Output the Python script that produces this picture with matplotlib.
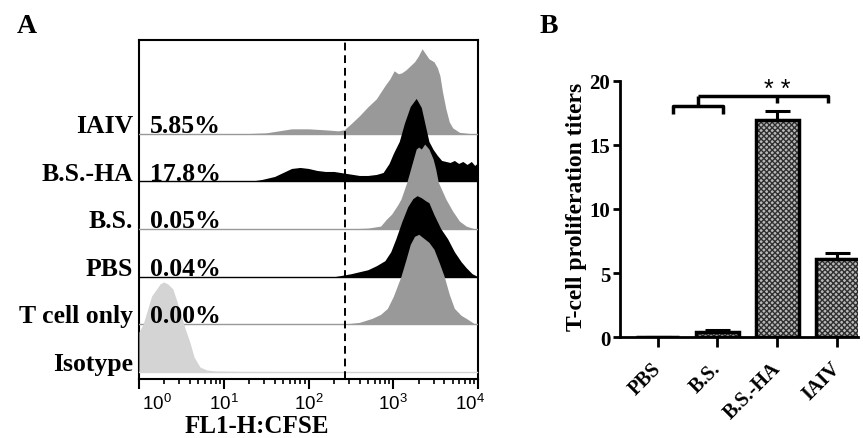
import numpy as np
import matplotlib
matplotlib.use("Agg")
import matplotlib.pyplot as plt
import matplotlib.transforms as mtransforms

plt.rcParams['font.family'] = ['Liberation Serif', 'DejaVu Serif']
plt.rcParams['mathtext.fontset'] = 'custom'
plt.rcParams['mathtext.rm'] = 'Liberation Sans'
plt.rcParams['mathtext.it'] = 'Liberation Sans'

# ---- panel A: CFSE histograms (log10 FL1-H, relative counts) ----
rows = ["Isotype", "T cell only", "PBS", "B.S.", "B.S.-HA", "IAIV"]
percents = ["", "0.00%", "0.04%", "0.05%", "17.8%", "5.85%"]
row_colors = ["#d4d4d4", "#999999", "#000000", "#999999", "#000000", "#999999"]

iso_x = [0, 0.05, 0.1, 0.15, 0.2, 0.25, 0.29, 0.34, 0.4, 0.45, 0.5, 0.55, 0.6,
         0.65, 0.72, 0.8, 0.9, 1.2, 2, 4]
iso_h = [40, 48, 62, 76, 82, 88, 90, 88, 83, 70, 56, 42, 30, 15, 5, 2, 1, 0.6,
         0.4, 0.3]

tcell_x = [2.4, 2.6, 2.75, 2.85, 2.93, 3.0, 3.09, 3.15, 3.2, 3.25, 3.3, 3.36,
           3.42, 3.48, 3.54, 3.6, 3.66, 3.72, 3.8, 3.86, 3.95]
tcell_h = [0, 2, 6, 10, 16, 28, 48, 65, 80, 88, 90, 86, 82, 75, 62, 48, 30, 16,
           9, 6, 1]

pbs_x = [2.3, 2.5, 2.7, 2.8, 2.9, 2.97, 3.03, 3.1, 3.17, 3.23, 3.28, 3.33, 3.38,
         3.42, 3.48, 3.56, 3.64, 3.72, 3.8, 3.86, 3.93, 4.0]
pbs_h = [0, 3, 7, 11, 16, 25, 38, 55, 70, 78, 81, 79, 76, 74, 62, 48, 38, 25, 15,
         9, 3, 0]

bs_x = [2.4, 2.7, 2.85, 2.92, 2.98, 3.05, 3.09, 3.16, 3.22, 3.27, 3.3, 3.33,
        3.37, 3.42, 3.47, 3.5, 3.53, 3.62, 3.7, 3.78, 3.86, 3.95]
bs_h = [0, 1, 3, 10, 15, 24, 30, 47, 65, 80, 82, 80, 85, 80, 70, 60, 47, 30, 18,
        8, 3, 0.5]

bsha_x = [1.3, 1.45, 1.6, 1.7, 1.8, 1.9, 2.0, 2.1, 2.2, 2.3, 2.45, 2.6, 2.7, 2.8,
          2.88, 2.95, 3.0, 3.07, 3.13, 3.2, 3.27, 3.33, 3.38, 3.42, 3.47, 3.52,
          3.57, 3.62, 3.67, 3.72, 3.77, 3.82, 3.87, 3.92, 3.96, 4.0]
bsha_h = [0, 2, 5, 9, 13, 14, 13, 11, 10, 10, 8, 6, 6, 7, 9, 18, 28, 40, 58, 75,
          83, 74, 55, 40, 32, 26, 21, 20, 19, 21, 18, 20, 17, 20, 16, 19]

iaiv_x = [1.2, 1.5, 1.65, 1.8, 2.0, 2.2, 2.35, 2.42, 2.5, 2.6, 2.7, 2.8, 2.9,
          2.96, 3.01, 3.06, 3.1, 3.15, 3.2, 3.25, 3.29, 3.34, 3.38, 3.42, 3.48,
          3.52, 3.55, 3.58, 3.62, 3.66, 3.7, 3.78, 3.9, 4.0]
iaiv_h = [0, 1, 3, 5, 5, 4, 3, 4, 10, 18, 27, 35, 48, 55, 63, 60, 61, 64, 68, 72,
          77, 85, 80, 75, 72, 66, 58, 42, 25, 12, 6, 1.5, 0.3, 0]

hist_x = [iso_x, tcell_x, pbs_x, bs_x, bsha_x, iaiv_x]
hist_h = [iso_h, tcell_h, pbs_h, bs_h, bsha_h, iaiv_h]
gate = 270

# ---- panel B: proliferation titers ----
groups = ["PBS", "B.S.", "B.S.-HA", "IAIV"]
titers = [0, 0.45, 16.9, 6.1]
titer_err = [0, 0.12, 0.7, 0.45]

fig = plt.figure(figsize=(8.63, 4.39), dpi=100)

# panel A
axA = fig.add_axes([0.161, 0.1344, 0.393, 0.7722])
scale = 47.6  # counts per row spacing
n = len(rows)
for i in range(n - 1, -1, -1):
    z = 2 + (n - i) * 2
    axA.axhline(i, color=row_colors[i], lw=1.0, zorder=z)
    xs = 10 ** np.array(hist_x[i])
    ys = i + np.array(hist_h[i]) / scale
    axA.fill_between(xs, i, ys, color=row_colors[i], lw=0, zorder=z + 1)

axA.axvline(gate, color='black', ls=(0, (4, 2.5)), lw=1.4, zorder=30)
axA.set_xscale('log')
axA.set_xlim(1, 10 ** 4.0)
axA.set_ylim(-0.147, 6.97)
axA.set_yticks([])
for s in axA.spines.values():
    s.set_linewidth(1.5)
axA.set_xticks([1, 10, 100, 1000, 10000])
axA.set_xticklabels([r'$10^{0}$', r'$10^{1}$', r'$10^{2}$', r'$10^{3}$', r'$10^{4}$'])
axA.tick_params(axis='x', which='major', length=7, width=1.5, labelsize=13.5, pad=3)
axA.tick_params(axis='x', which='minor', length=3.5, width=1.2)
tl = axA.get_xticklabels()
tl[0].set_transform(tl[0].get_transform() + mtransforms.ScaledTranslation(18 / 100, 0, fig.dpi_scale_trans))
tl[-1].set_transform(tl[-1].get_transform() + mtransforms.ScaledTranslation(-8 / 100, 0, fig.dpi_scale_trans))

trans = mtransforms.blended_transform_factory(axA.transAxes, axA.transData)
for i in range(n):
    axA.text(-0.018, i + 0.04, rows[i], transform=trans, ha='right', va='baseline',
             fontsize=18.5, fontweight='bold')
    if percents[i]:
        axA.text(0.032, i + 0.04, percents[i], transform=trans, ha='left',
                 va='baseline', fontsize=18.5, fontweight='bold', zorder=40)

fig.text(257 / 863, 1 - 427 / 439, "FL1-H:CFSE", ha='center', va='center',
         fontsize=18, fontweight='bold')
fig.text(17 / 863, 1 - 14 / 439, "A", ha='left', va='top', fontsize=20, fontweight='bold')
fig.text(540 / 863, 1 - 14 / 439, "B", ha='left', va='top', fontsize=20, fontweight='bold')

# panel B
axB = fig.add_axes([0.7184, 0.2294, 0.2758, 0.5845])
xpos = np.arange(len(groups))
axB.errorbar(xpos, titers, yerr=[np.zeros(len(titers)), titer_err], fmt='none',
             ecolor='black', elinewidth=2.2, capsize=9, capthick=2.2, zorder=2)
axB.bar(xpos, titers, width=0.72, color='#b8b8b8', edgecolor='#303030',
        hatch='xxxxxx', lw=0, zorder=3)
axB.bar(xpos, titers, width=0.72, color='none', edgecolor='black', lw=2.5, zorder=4)
axB.set_xlim(-0.63, 3.35)
axB.set_ylim(0, 20)
axB.set_yticks([0, 5, 10, 15, 20])
axB.set_xticks(xpos)
axB.set_xticklabels(groups, rotation=45, ha='right', va='center',
                    rotation_mode='anchor', fontsize=14.5, fontweight='bold')
for lab in axB.get_yticklabels():
    lab.set_fontweight('bold')
axB.tick_params(axis='y', length=5, width=2, labelsize=15, pad=2)
axB.tick_params(axis='x', length=7, width=2, pad=13)
axB.spines['top'].set_visible(False)
axB.spines['right'].set_visible(False)
axB.spines['left'].set_linewidth(2)
axB.spines['bottom'].set_linewidth(2)
axB.set_ylabel("T-cell proliferation titers", fontsize=17, fontweight='bold')
axB.yaxis.set_label_coords(-0.14, 0.512)

# significance brackets
bk = dict(color='black', lw=2.5, clip_on=False, solid_capstyle='butt')
axB.plot([0.25, 0.25, 1.1, 1.1], [17.4, 18.0, 18.0, 17.4], **bk)
axB.plot([0.67, 0.67], [18.0, 18.8], **bk)
axB.plot([0.67, 2.85, 2.85], [18.8, 18.8, 18.3], **bk)
axB.plot([2.0, 2.0], [18.8, 18.3], **bk)
axB.text(2.0, 18.4, "* *", ha='center', va='bottom', fontsize=18,
         family=['Liberation Sans', 'DejaVu Sans'])

fig.savefig("out.png", dpi=100)
